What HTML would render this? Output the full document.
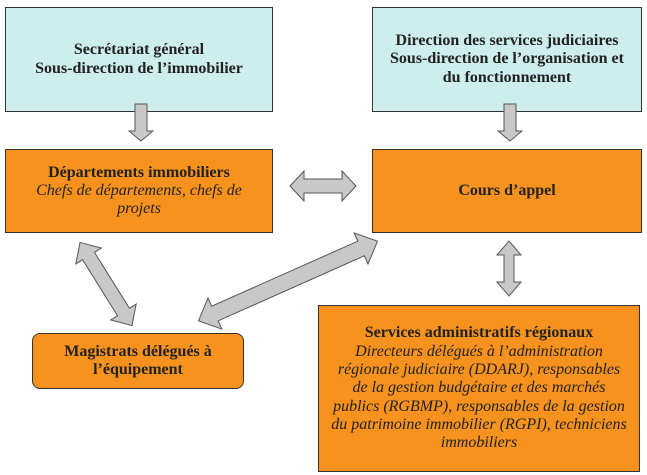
<!DOCTYPE html>
<html><head><style>
body{margin:0;width:647px;height:475px;background:#fff;position:relative;font-family:"Liberation Serif",serif;color:#222;overflow:hidden}
.b{position:absolute;box-sizing:border-box;border:1.5px solid #333;display:flex;flex-direction:column;align-items:center;justify-content:center;text-align:center;font-size:16px;line-height:18.3px;white-space:nowrap}
.c{background:#cdeeed}.o{background:#f7921e}
b{font-weight:bold}i{font-style:italic}
</style></head><body>
<div class="b c" style="left:5px;top:7px;width:268px;height:105px"><b>Secrétariat général<br>Sous-direction de l’immobilier</b></div>
<div class="b c" style="left:372px;top:7px;width:270px;height:105px"><b>Direction des services judiciaires<br>Sous-direction de l’organisation et<br>du fonctionnement</b></div>
<div class="b o" style="left:5px;top:149px;width:268px;height:84px"><b>Départements immobiliers</b><i>Chefs de départements, chefs de<br>projets</i></div>
<div class="b o" style="left:372px;top:149px;width:270px;height:84px"><b>Cours d’appel</b></div>
<div class="b o" style="left:32px;top:333px;width:212px;height:56px;border-radius:8px"><b>Magistrats délégués à<br>l’équipement</b></div>
<div class="b o" style="left:318px;top:305px;width:322px;height:167px"><b>Services administratifs régionaux</b><i>Directeurs délégués à l’administration<br>régionale judiciaire (DDARJ), responsables<br>de la gestion budgétaire et des marchés<br>publics (RGBMP), responsables de la gestion<br>du patrimoine immobilier (RGPI), techniciens<br>immobiliers</i></div>
<svg width="647" height="475" style="position:absolute;left:0;top:0">
<g fill="#c8c8c8" stroke="#555" stroke-width="1">
<polygon points="135,104 147,104 147,131 153,131 141,141 129,131 135,131"/>
<polygon points="504,104 516,104 516,131 522,131 510,141 498,131 504,131"/>
<polygon points="290,186 304,171 304,179 342,179 342,171 356,186 342,201 342,193 304,193 304,201"/>
<polygon points="509,241 521,255 514,255 514,282 521,282 509,296 497,282 504,282 504,255 497,255"/>
<g transform="translate(106,284) rotate(58)"><polygon points="-49,0 -33,-15 -33,-7 33,-7 33,-15 49,0 33,15 33,7 -33,7 -33,15"/></g>
<g transform="translate(288,281) rotate(-24)"><polygon points="-98,0 -80,-17 -80,-8 80,-8 80,-17 98,0 80,17 80,8 -80,8 -80,17"/></g>
</g>
</svg>
</body></html>
